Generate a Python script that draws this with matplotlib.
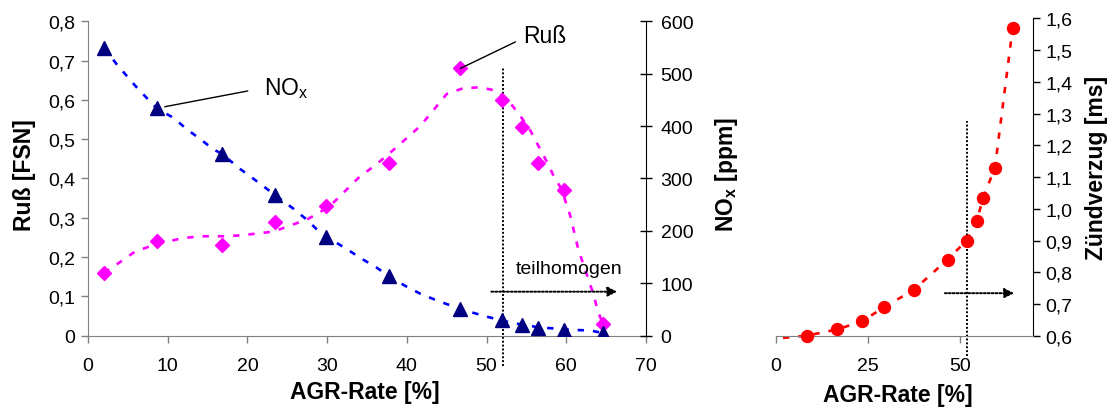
import matplotlib
matplotlib.use("Agg")
import matplotlib.pyplot as plt
from matplotlib.ticker import FuncFormatter, MultipleLocator

plt.rcParams['font.family'] = ['Liberation Sans', 'DejaVu Sans']
plt.rcParams['mathtext.fontset'] = 'custom'
plt.rcParams['mathtext.rm'] = 'Liberation Sans'
plt.rcParams['mathtext.bf'] = 'Liberation Sans:bold'

# measured operating points (AGR rate in %)
agr = [2, 8.6, 16.8, 23.5, 29.8, 37.8, 46.7, 51.9, 54.5, 56.5, 59.7, 64.6]
soot = [0.16, 0.24, 0.23, 0.29, 0.33, 0.44, 0.68, 0.60, 0.53, 0.44, 0.37, 0.03]
nox = [550, 434, 347, 268, 188, 113, 51, 29, 21, 15, 11, 5]
ign_agr = [8.4, 16.8, 23.4, 29.5, 37.6, 46.7, 51.9, 54.6, 56.4, 59.6, 64.4]
ign_delay = [0.60, 0.62, 0.645, 0.69, 0.745, 0.84, 0.90, 0.96, 1.035, 1.13, 1.57]

# smoothed trend lines
soot_curve_x = [2, 4, 5.9, 8, 9.9, 11.8, 14.1, 17.4, 19.5, 21.6, 23.3, 25.3, 27.4,
                29.1, 30.8, 32.5, 34.1, 36, 38.9, 41.7, 45, 47.1, 49.2, 51.3, 52.9,
                54.2, 55.5, 56.5, 57.6, 58.4, 59.4, 60.5, 61.5, 62.5, 63.4, 64, 64.6]
soot_curve_y = [0.16, 0.187, 0.214, 0.229, 0.239, 0.248, 0.253, 0.253, 0.256, 0.261,
                0.265, 0.28, 0.295, 0.314, 0.339, 0.373, 0.405, 0.433, 0.483, 0.534,
                0.615, 0.63, 0.632, 0.623, 0.594, 0.56, 0.522, 0.483, 0.441, 0.407,
                0.373, 0.305, 0.22, 0.16, 0.106, 0.06, 0.03]
nox_curve_x = [2, 3.6, 6.1, 8.6, 10.7, 12.4, 14.1, 15.7, 16.8, 19.1, 20.8, 23.5, 25.8,
               27.4, 28.7, 29.8, 32.5, 34.1, 36.2, 37.8, 39.8, 41.7, 43.8, 46.7, 49.6,
               51.9, 53.4, 56.5, 60.9, 63, 64.6]
nox_curve_y = [550, 518, 474, 434, 416, 394, 375, 356, 347, 318, 299, 268, 242, 222,
               203, 190, 165, 149, 130, 113, 95, 80, 67, 51, 38, 29, 24, 16, 11, 10, 5]
ign_curve_x = [2] + ign_agr
ign_curve_y = [0.593] + ign_delay

# boundary of the partly homogeneous combustion
limit_agr = 52.0


def comma(v, pos):
    if abs(v) < 1e-9:
        return '0'
    return ('%.1f' % v).replace('.', ',')


fig = plt.figure(figsize=(11.14, 4.1), dpi=100)
ax1 = fig.add_axes([0.0790, 0.1788, 0.5009, 0.7668])
ax2 = ax1.twinx()
ax3 = fig.add_axes([0.6963, 0.1788, 0.2312, 0.7737])

dash = (0, (2.4, 3.4))
dots = (0, (1, 1))
grey = '#808080'

# --- left panel: soot and NOx ---
ax1.plot(soot_curve_x, soot_curve_y, color='#FF00FF', lw=1.9, ls=dash, zorder=2)
ax1.plot(agr, soot, ls='none', marker='D', ms=7.5, color='#FF00FF', zorder=3)
ax2.plot(nox_curve_x, nox_curve_y, color='#0000FF', lw=1.9, ls=dash, zorder=2)
ax2.plot(agr, nox, ls='none', marker='^', ms=10, color='#000080', zorder=3)

ax1.set_xlim(0, 70)
ax1.set_ylim(0, 0.8)
ax2.set_ylim(0, 600)
ax1.xaxis.set_major_locator(MultipleLocator(10))
ax1.yaxis.set_major_locator(MultipleLocator(0.1))
ax2.yaxis.set_major_locator(MultipleLocator(100))
ax1.yaxis.set_major_formatter(FuncFormatter(comma))

for a in (ax1, ax2):
    a.spines['top'].set_visible(False)
ax1.spines['right'].set_visible(False)
ax1.spines['left'].set_color(grey)
ax1.spines['bottom'].set_color(grey)
ax2.spines['left'].set_visible(False)
ax2.spines['bottom'].set_visible(False)
ax2.spines['right'].set_color('black')

ax1.tick_params(axis='y', direction='out', length=5, width=1, color=grey,
                labelsize=14, pad=4)
ax1.tick_params(axis='x', direction='out', length=5, width=1, color=grey,
                labelsize=14, pad=10)
ax2.tick_params(axis='y', direction='inout', length=9, width=1, color='black',
                labelsize=14, pad=6)

ax1.set_xlabel('AGR-Rate [%]', fontsize=16.5, fontweight='bold')
ax1.xaxis.set_label_coords(0.496, -0.179)
ax1.xaxis.label.set_va('center')
ax1.set_ylabel('Ruß [FSN]', fontsize=16.5, fontweight='bold')
ax1.yaxis.set_label_coords(-0.113, 0.515)
ax1.yaxis.label.set_va('center')
ax2.set_ylabel(r'NO$_\mathbf{x}$ [ppm]', fontsize=16.5, fontweight='bold',
               rotation=90)
ax2.yaxis.set_label_coords(1.145, 0.515)
ax2.yaxis.label.set_va('center')

# limit line and "teilhomogen" arrow
ax1.plot([limit_agr, limit_agr], [-0.076, 0.683], color='black', lw=1.4,
         ls=dots, clip_on=False, zorder=1)
ax1.annotate('', xy=(66.4, 0.112), xytext=(50.6, 0.112),
             arrowprops=dict(arrowstyle='-|>', color='black', lw=1.4,
                             ls=dots, mutation_scale=14,
                             shrinkA=0, shrinkB=0))
ax1.text(53.6, 0.17, 'teilhomogen', fontsize=14, ha='left', va='center')

# series labels
ax2.annotate(r'NO$_\mathrm{x}$', xy=(agr[1], nox[1]), xytext=(22.1, 473),
             fontsize=16.5, ha='left', va='center',
             arrowprops=dict(arrowstyle='-', color='black', lw=1,
                             relpos=(0, 0.5), shrinkA=10, shrinkB=6))
ax1.annotate('Ruß', xy=(agr[6], soot[6]), xytext=(54.6, 0.763),
             fontsize=16.5, ha='left', va='center',
             arrowprops=dict(arrowstyle='-', color='black', lw=1,
                             relpos=(0, 0.4), shrinkA=4, shrinkB=0))

# --- right panel: ignition delay ---
ax3.plot(ign_curve_x, ign_curve_y, color='#FF0000', lw=1.9, ls=dash,
         clip_on=False, zorder=2)
ax3.plot(ign_agr, ign_delay, ls='none', marker='o', ms=8.6, color='#FF0000',
         clip_on=False, zorder=3)
ax3.set_xlim(0, 70)
ax3.set_ylim(0.6, 1.6)
ax3.xaxis.set_major_locator(MultipleLocator(25))
ax3.yaxis.set_major_locator(MultipleLocator(0.1))
ax3.yaxis.set_major_formatter(FuncFormatter(comma))
ax3.yaxis.tick_right()
ax3.yaxis.set_label_position('right')
ax3.spines['top'].set_visible(False)
ax3.spines['left'].set_visible(False)
ax3.spines['bottom'].set_color(grey)
ax3.spines['right'].set_color('black')
ax3.tick_params(axis='y', direction='out', length=5, width=1, color='black',
                labelsize=14, pad=4)
ax3.tick_params(axis='x', direction='out', length=5, width=1, color=grey,
                labelsize=14, pad=10)
ax3.set_xlabel('AGR-Rate [%]', fontsize=16.5, fontweight='bold')
ax3.xaxis.set_label_coords(0.475, -0.184)
ax3.xaxis.label.set_va('center')
ax3.set_ylabel('Zündverzug [ms]', fontsize=16.5, fontweight='bold')
ax3.yaxis.set_label_coords(1.247, 0.533)
ax3.yaxis.label.set_va('center')

ax3.plot([limit_agr, limit_agr], [0.537, 1.278], color='black', lw=1.4,
         ls=dots, clip_on=False, zorder=1)
ax3.annotate('', xy=(64.8, 0.734), xytext=(46.0, 0.734),
             arrowprops=dict(arrowstyle='-|>', color='black', lw=1.4,
                             ls=dots, mutation_scale=14,
                             shrinkA=0, shrinkB=0))

fig.savefig('out.png', dpi=100)
